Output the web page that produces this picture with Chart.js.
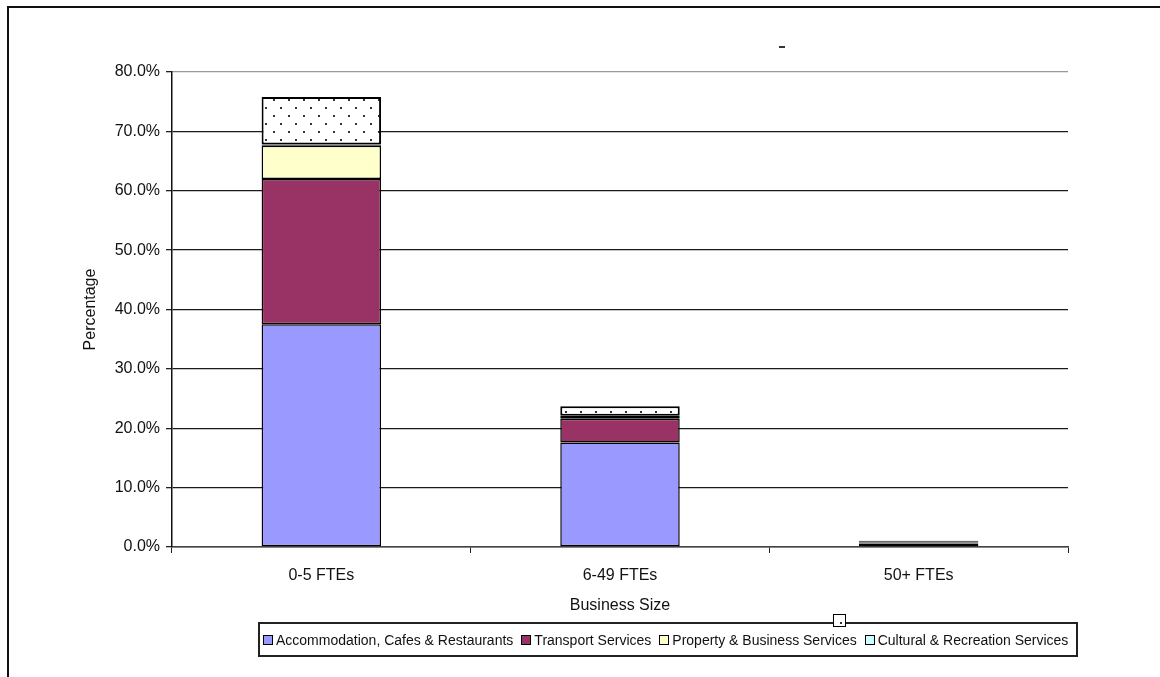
<!DOCTYPE html>
<html>
<head>
<meta charset="utf-8">
<script src="https://cdn.jsdelivr.net/npm/chart.js@4"></script>
<style>
  body { margin: 0; background: #fff; font-family: "Liberation Sans", Arial, sans-serif; }
  #wrap { position: relative; width: 1160px; height: 677px; overflow: hidden; }
  #frame { position: absolute; left: 7px; top: 6px; width: 1200px; height: 700px; border-left: 2px solid #111; border-top: 2px solid #111; }
  #mark { position: absolute; left: 779px; top: 46px; width: 6px; height: 2px; background: #333; }
  canvas { position: absolute; left: 0; top: 0; }
  #legend { position: absolute; left: 258px; top: 622px; width: 813px; height: 31px; border: 2px solid #222; padding-left: 3px;
            display: flex; align-items: center; font-size: 14px; color: #111; white-space: nowrap; }
  #legend .item { display: flex; align-items: center; margin: 0 8px 0 0; }
  #legend .box { width: 8px; height: 8px; border: 1px solid #000; margin-right: 3px; }
  #extra { position: absolute; left: 833px; top: 614px; width: 11px; height: 11px; border: 1.5px solid #000; background: #fff; }
  #extra::after { content: ""; position: absolute; left: 6px; top: 7px; width: 2px; height: 2px; background: #333; }
</style>
</head>
<body>
<div id="wrap">
  <div id="frame"></div>
  <div id="mark"></div>
  <canvas id="sizeChart" width="1160" height="677"></canvas>
  <div id="legend"></div>
  <div id="extra"></div>
</div>
<script>
const businessSizes = ['0-5 FTEs', '6-49 FTEs', '50+ FTEs'];

const accommodation = [37.5, 17.6, 0.6];
const transport = [24.5, 4.0, 0.15];
const property = [5.6, 0.3, 0.1];
const cultural = [0.2, 0.2, 0.1];
const otherIndustries = [8.0, 1.6, 0.1];

const yTicks = [0, 10, 20, 30, 40, 50, 60, 70, 80];

// kropkowany wzór dla ostatniej serii
function dotPattern() {
  const c = document.createElement('canvas');
  c.width = 15;
  c.height = 16;
  const g = c.getContext('2d');
  g.fillStyle = '#fff';
  g.fillRect(0, 0, 15, 16);
  g.fillStyle = '#333';
  g.fillRect(3, 3, 2, 2);
  g.fillRect(10, 11, 2, 2);
  return g.createPattern(c, 'repeat');
}

const seriesStyle = {
  borderColor: '#000',
  borderWidth: 1.5,
  borderSkipped: false,
  barPercentage: 0.4,
  categoryPercentage: 1.0
};

const axisFont = { family: 'Liberation Sans', size: 16 };

const ctx = document.getElementById('sizeChart');

const chart = new Chart(ctx, {
  type: 'bar',
  data: {
    labels: businessSizes,
    datasets: [
      { label: 'Accommodation, Cafes & Restaurants', data: accommodation, backgroundColor: '#9999FF', ...seriesStyle },
      { label: 'Transport Services', data: transport, backgroundColor: '#993366', ...seriesStyle },
      { label: 'Property & Business Services', data: property, backgroundColor: '#FFFFCC', ...seriesStyle },
      { label: 'Cultural & Recreation Services', data: cultural, backgroundColor: '#CCFFFF', ...seriesStyle },
      { label: '', data: otherIndustries, backgroundColor: dotPattern(), ...seriesStyle, borderWidth: 2 }
    ]
  },
  options: {
    responsive: false,
    devicePixelRatio: 1,
    animation: false,
    layout: {
      padding: { left: 81, right: 92, top: 72, bottom: 60 }
    },
    plugins: {
      legend: { display: false },
      tooltip: { enabled: false }
    },
    scales: {
      x: {
        stacked: true,
        offset: true,
        afterFit: (scale) => { scale.height = 70; },
        grid: {
          offset: true,
          drawOnChartArea: true,
          color: (c) => c.index === businessSizes.length ? '#888' : 'transparent',
          tickColor: '#222',
          tickLength: 6
        },
        border: { color: '#444', width: 1.5 },
        ticks: { color: '#111', padding: 13, font: axisFont },
        title: {
          display: true,
          text: 'Business Size',
          color: '#111',
          padding: { top: 0, bottom: 2 },
          font: axisFont
        }
      },
      y: {
        stacked: true,
        min: 0,
        max: 80,
        afterFit: (scale) => { scale.width = 91; },
        afterBuildTicks: (scale) => { scale.ticks = yTicks.map(v => ({ value: v })); },
        grid: {
          color: (c) => c.tick && c.tick.value === 80 ? '#999' : '#1a1a1a',
          lineWidth: 1.3,
          tickColor: '#222',
          tickLength: 6
        },
        border: { color: '#111', width: 1.5 },
        ticks: {
          color: '#111',
          padding: 6,
          font: axisFont,
          callback: (v) => v.toFixed(1) + '%'
        },
        title: {
          display: true,
          text: 'Percentage',
          color: '#111',
          padding: 0,
          font: axisFont
        }
      }
    }
  }
});

// legenda w ramce pod wykresem
const legendEl = document.getElementById('legend');
chart.data.datasets.forEach((ds) => {
  if (!ds.label) return;
  const item = document.createElement('span');
  item.className = 'item';
  const box = document.createElement('span');
  box.className = 'box';
  box.style.background = ds.backgroundColor;
  item.appendChild(box);
  item.appendChild(document.createTextNode(ds.label));
  legendEl.appendChild(item);
});
</script>
</body>
</html>
